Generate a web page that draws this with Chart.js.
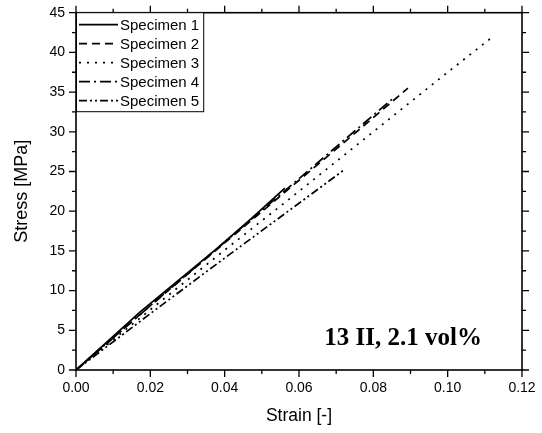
<!DOCTYPE html>
<html>
<head>
<meta charset="utf-8">
<script src="https://cdn.jsdelivr.net/npm/chart.js@4"></script>
<style>
  html, body { margin: 0; padding: 0; background: #fff; }
  #wrap { width: 542px; height: 433px; }
</style>
</head>
<body>
<div id="wrap"><canvas id="myChart"></canvas></div>
<script>
// values (strain [-], stress [MPa])
const labels = ['Specimen 1', 'Specimen 2', 'Specimen 3', 'Specimen 4', 'Specimen 5'];
const strain1 = [0, 0.0172, 0.0374, 0.047, 0.0562];
const stress1 = [0, 7.3, 15.1, 19.0, 22.9];
const strain2 = [0, 0.02, 0.04, 0.06, 0.075, 0.0893];
const stress2 = [0, 8.1, 16.0, 23.9, 29.8, 35.5];
const strain3 = [0, 0.02, 0.04, 0.06, 0.08, 0.1, 0.1122];
const stress3 = [0, 7.6, 15.1, 22.5, 30.0, 37.5, 42.0];
const strain4 = [0, 0.02, 0.04, 0.06, 0.075, 0.0853];
const stress4 = [0, 8.1, 16.1, 24.1, 30.1, 34.2];
const strain5 = [0, 0.02, 0.04, 0.06, 0.0724];
const stress5 = [0, 7.1, 14.1, 21.0, 25.3];
const dashes = [[], [8, 5], [2, 6], [11, 4, 2, 4], [8, 3, 2, 3, 2, 3]];
const xTicks = [0, 0.02, 0.04, 0.06, 0.08, 0.10, 0.12];
const yTicks = [0, 5, 10, 15, 20, 25, 30, 35, 40, 45];
const note = '13 II, 2.1 vol%';

function pts(xs, ys) {
  return xs.map((x, i) => ({x: x, y: ys[i]}));
}
const series = [[strain1, stress1], [strain2, stress2], [strain3, stress3], [strain4, stress4], [strain5, stress5]];

const font = "'Liberation Sans', Arial, sans-serif";

// frame with ticks on all four sides, minor ticks in between
const framePlugin = {
  id: 'frame',
  afterDraw(chart) {
    const c = chart.ctx, a = chart.chartArea;
    const xs = chart.scales.x, ys = chart.scales.y;
    c.save();
    c.strokeStyle = '#000';
    c.lineWidth = 1.6;
    c.strokeRect(a.left, a.top, a.right - a.left, a.bottom - a.top);
    c.lineWidth = 1.3;
    c.beginPath();
    for (let i = 0; i < xTicks.length; i++) {
      const px = xs.getPixelForValue(xTicks[i]);
      c.moveTo(px, a.bottom); c.lineTo(px, a.bottom + 7);
      c.moveTo(px, a.top); c.lineTo(px, a.top - 7);
      if (i < xTicks.length - 1) {
        const mx = xs.getPixelForValue((xTicks[i] + xTicks[i + 1]) / 2);
        c.moveTo(mx, a.bottom); c.lineTo(mx, a.bottom + 4);
        c.moveTo(mx, a.top); c.lineTo(mx, a.top - 4);
      }
    }
    for (let i = 0; i < yTicks.length; i++) {
      const py = ys.getPixelForValue(yTicks[i]);
      c.moveTo(a.left, py); c.lineTo(a.left - 7, py);
      c.moveTo(a.right, py); c.lineTo(a.right + 7, py);
      if (i < yTicks.length - 1) {
        const my = ys.getPixelForValue((yTicks[i] + yTicks[i + 1]) / 2);
        c.moveTo(a.left, my); c.lineTo(a.left - 4, my);
        c.moveTo(a.right, my); c.lineTo(a.right + 4, my);
      }
    }
    c.stroke();

    // legend box in the top left corner
    c.font = '15px ' + font;
    let w = 0;
    chart.data.datasets.forEach(d => { w = Math.max(w, c.measureText(d.label).width); });
    const bx = a.left, by = a.top, rowH = 19;
    const bh = rowH * chart.data.datasets.length + 4;
    const bw = 44 + w + 4;
    c.fillStyle = '#fff';
    c.fillRect(bx, by, bw, bh);
    c.lineWidth = 1;
    c.strokeRect(bx + 0.5, by, bw, bh);
    c.textBaseline = 'middle';
    chart.data.datasets.forEach((d, i) => {
      const cy = by + 12 + i * rowH;
      c.beginPath();
      c.setLineDash(d.borderDash);
      c.lineWidth = 1.8;
      c.moveTo(bx + 3, cy); c.lineTo(bx + 42, cy);
      c.stroke();
      c.setLineDash([]);
      c.fillStyle = '#000';
      c.fillText(d.label, bx + 44, cy + 1);
    });

    // note text
    c.font = "bold 25px 'Liberation Serif', 'Times New Roman', serif";
    c.textAlign = 'center';
    c.textBaseline = 'alphabetic';
    c.fillText(note, xs.getPixelForValue(0.0880), ys.getPixelForValue(3.15));
    c.restore();
  }
};

var ctx = document.getElementById('myChart').getContext('2d');
var myChart = new Chart(ctx, {
  type: 'scatter',
  data: {
    datasets: series.map((s, i) => ({
      label: labels[i],
      data: pts(s[0], s[1]),
      showLine: true,
      borderColor: '#000',
      borderWidth: 1.7,
      borderDash: dashes[i],
      pointRadius: 0,
      tension: 0
    }))
  },
  options: {
    responsive: true,
    maintainAspectRatio: false,
    animation: false,
    layout: { padding: { top: 12.7, right: 20, left: 0, bottom: 0 } },
    plugins: { legend: { display: false }, tooltip: { enabled: false } },
    scales: {
      x: {
        type: 'linear', min: 0, max: 0.12,
        afterFit: s => { s.height = 63; s.paddingLeft = 0; s.paddingRight = 0; },
        afterBuildTicks: s => { s.ticks = xTicks.map(v => ({value: v})); },
        grid: { display: false, drawTicks: false },
        border: { display: false },
        ticks: { color: '#000', padding: 10, font: { family: font, size: 14 },
                 callback: v => v.toFixed(2) },
        title: { display: true, text: 'Strain [-]', color: '#000',
                 font: { family: font, size: 17.5 }, padding: { top: 0, bottom: 6.5 } }
      },
      y: {
        type: 'linear', min: 0, max: 45,
        afterFit: s => { s.width = 76; s.paddingTop = 0; s.paddingBottom = 0; },
        afterBuildTicks: s => { s.ticks = yTicks.map(v => ({value: v})); },
        grid: { display: false, drawTicks: false },
        border: { display: false },
        ticks: { color: '#000', padding: 11, font: { family: font, size: 14 } },
        title: { display: true, text: 'Stress [MPa]', color: '#000',
                 font: { family: font, size: 18 }, padding: { top: 11, bottom: 0 } }
      }
    }
  },
  plugins: [framePlugin]
});
</script>
</body>
</html>
